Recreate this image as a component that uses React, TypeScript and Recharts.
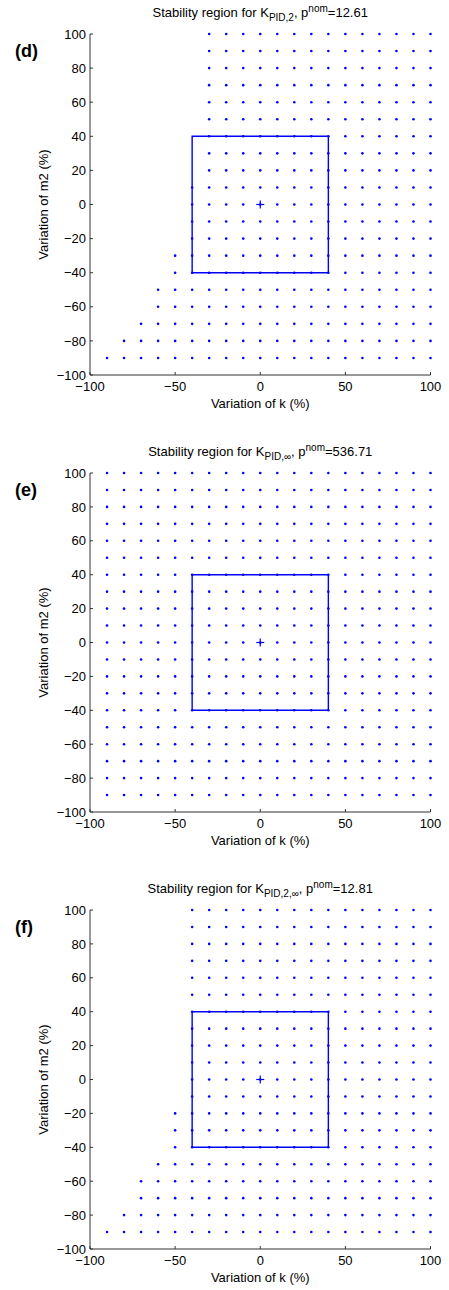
import { ScatterChart, Scatter, XAxis, YAxis, ReferenceArea } from 'recharts';

// grid of tested variations (%)
const kLevels = [-90, -80, -70, -60, -50, -40, -30, -20, -10, 0, 10, 20, 30, 40, 50, 60, 70, 80, 90, 100];
const m2Levels = [100, 90, 80, 70, 60, 50, 40, 30, 20, 10, 0, -10, -20, -30, -40, -50, -60, -70, -80, -90];

// smallest stable k variation in each m2 row (same order as m2Levels)
const minKPid2 = [-30, -30, -30, -30, -30, -30, -30, -30, -30, -40, -40, -40, -40, -50, -50, -60, -60, -70, -80, -90];
const minKPidInf = [-90, -90, -90, -90, -90, -90, -90, -90, -90, -90, -90, -90, -90, -90, -90, -90, -90, -90, -90, -90];
const minKPid2Inf = [-40, -40, -40, -40, -40, -40, -40, -40, -40, -40, -40, -40, -50, -50, -50, -60, -70, -70, -80, -90];

const kTicks = [-100, -50, 0, 50, 100];
const m2Ticks = [-100, -80, -60, -40, -20, 0, 20, 40, 60, 80, 100];

// uncertainty box and nominal point
const boxK = [-40, 40];
const boxM2 = [-40, 40];
const nominal = [{ k: 0, m2: 0 }];

const BLUE = '#0000ff';
const fmt = (v: number) => (v < 0 ? `\u2212${-v}` : `${v}`);

const Dot = (p: any) => <circle cx={p.cx} cy={p.cy} r={1.3} fill={BLUE} />;
const Plus = (p: any) => (
  <g stroke={BLUE} strokeWidth={1.2}>
    <line x1={p.cx - 4} y1={p.cy} x2={p.cx + 4} y2={p.cy} />
    <line x1={p.cx} y1={p.cy - 4} x2={p.cx} y2={p.cy + 4} />
  </g>
);

interface PanelProps {
  top: number;
  tag: string;
  sub: string;
  pnom: string;
  minK: number[];
  plotH: number;
}

const Panel = ({ top, tag, sub, pnom, minK, plotH }: PanelProps) => {
  const points = m2Levels.flatMap((m2, i) => kLevels.filter((k) => k >= minK[i]).map((k) => ({ k, m2 })));
  const h = 34 + plotH + 41;
  return (
    <div style={{ position: 'absolute', top, left: 0, width: 449, height: h }}>
      <ScatterChart width={449} height={h} margin={{ top: 34, right: 18.5, bottom: 8, left: 0 }}>
        <XAxis
          type="number"
          dataKey="k"
          domain={[-100, 100]}
          ticks={kTicks}
          interval={0}
          tickSize={-3}
          tickMargin={10}
          height={33}
          stroke="#333"
          tick={{ fill: '#000', fontSize: 13 }}
          tickFormatter={fmt}
          label={{ value: 'Variation of k (%)', position: 'insideBottom', offset: 0, fill: '#000', fontSize: 13 }}
        />
        <YAxis
          type="number"
          dataKey="m2"
          domain={[-100, 100]}
          ticks={m2Ticks}
          interval={0}
          width={90}
          tickSize={-3}
          tickMargin={7}
          stroke="#333"
          tick={{ fill: '#000', fontSize: 13 }}
          tickFormatter={fmt}
          label={{
            value: 'Variation of m2 (%)',
            angle: -90,
            position: 'insideLeft',
            offset: 43,
            fill: '#000',
            fontSize: 13,
            style: { textAnchor: 'middle' },
          }}
        />
        <ReferenceArea x1={boxK[0]} x2={boxK[1]} y1={boxM2[0]} y2={boxM2[1]} fill="none" stroke={BLUE} strokeWidth={1.4} />
        <Scatter data={points} shape={Dot} isAnimationActive={false} />
        <Scatter data={nominal} shape={Plus} isAnimationActive={false} />
      </ScatterChart>
      <div
        style={{
          position: 'absolute',
          top: 5,
          left: 90,
          width: 340.5,
          textAlign: 'center',
          fontSize: 13,
          lineHeight: '16px',
          whiteSpace: 'nowrap',
        }}
      >
        Stability region for K
        <span style={{ fontSize: 10, position: 'relative', top: 4 }}>{sub}</span>, p
        <span style={{ fontSize: 10, position: 'relative', top: -5 }}>nom</span>={pnom}
      </div>
      <div style={{ position: 'absolute', top: 40, left: 15, fontSize: 18, fontWeight: 'bold', lineHeight: '22px' }}>
        ({tag})
      </div>
    </div>
  );
};

const App = () => {
  return (
    <div
      style={{
        position: 'absolute',
        top: 0,
        left: 0,
        width: 449,
        height: 1290,
        overflow: 'hidden',
        background: '#fff',
        fontFamily: '"Liberation Sans", Arial, Helvetica, sans-serif',
      }}
    >
      <Panel top={0} tag="d" sub="PID,2" pnom="12.61" minK={minKPid2} plotH={341} />
      <Panel top={439} tag="e" sub="PID,∞" pnom="536.71" minK={minKPidInf} plotH={339} />
      <Panel top={876} tag="f" sub="PID,2,∞" pnom="12.81" minK={minKPid2Inf} plotH={339} />
    </div>
  );
};

export default App;
